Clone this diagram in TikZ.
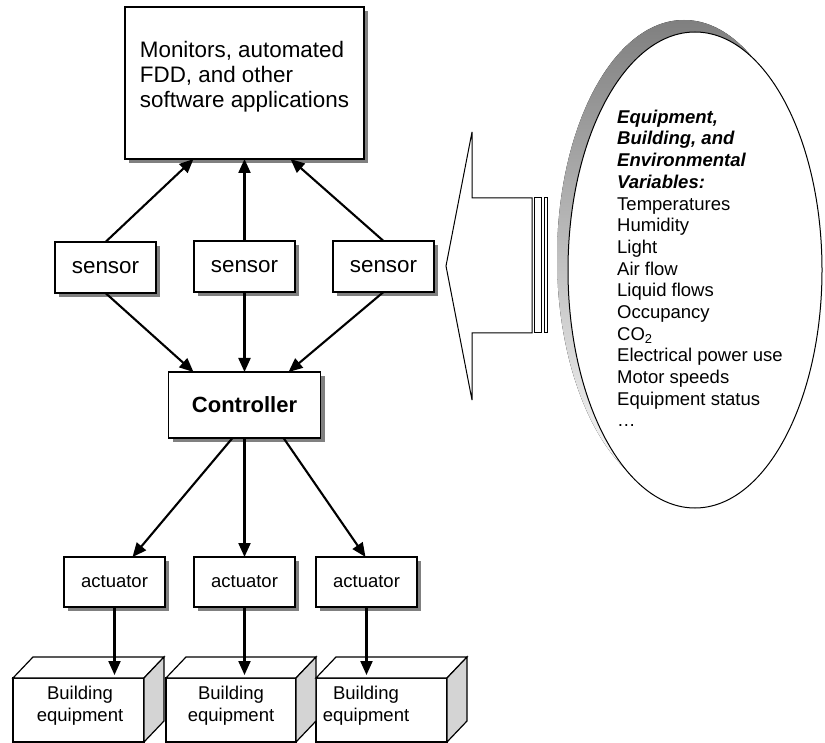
\documentclass[tikz,border=0pt]{standalone}
\usepackage{fontspec}
\setmainfont{Liberation Sans}
\usetikzlibrary{arrows.meta,shadows}
\definecolor{shade}{RGB}{128,128,128}
\definecolor{sidegray}{RGB}{212,212,212}

\tikzset{
  blk/.style={draw,fill=white,line width=1.2pt,outer sep=0pt,inner sep=0pt,
    drop shadow={shadow xshift=4pt,shadow yshift=-4pt,fill=shade,opacity=1}},
  face/.style={draw,fill=white,line width=1.2pt,outer sep=0pt,inner sep=0pt},
  bigfont/.style={font=\fontsize{22.4}{25}\selectfont},
  smallfont/.style={font=\fontsize{18.5}{21.67}\selectfont},
  link/.style={line width=2.1pt,-{Triangle[length=14pt,width=12pt]}},
}

\begin{document}
\begin{tikzpicture}[x=1pt,y=-1pt,line join=miter]
\useasboundingbox (0,0) rectangle (825,743);
% software box
\node[blk,minimum width=239pt,minimum height=152pt] (apps) at (244.5,83) {};
\node[bigfont,align=left] (appstext) at (244.5,77) {Monitors, automated\\FDD, and other\\software applications};
% sensors
\node[blk,bigfont,minimum width=101pt,minimum height=51pt] (s1) at (105.5,267.5) {sensor};
\node[blk,bigfont,minimum width=101pt,minimum height=51pt] (s2) at (244.5,266.5) {sensor};
\node[blk,bigfont,minimum width=101pt,minimum height=51pt] (s3) at (383.5,266.5) {sensor};
% controller
\node[blk,font=\fontsize{22}{25}\bfseries\selectfont,minimum width=152pt,minimum height=66pt] (ctrl) at (244.5,405) {Controller};
% actuators
\node[blk,smallfont,minimum width=101pt,minimum height=50pt] (act1) at (114.5,582) {actuator};
\node[blk,smallfont,minimum width=101pt,minimum height=50pt] (act2) at (244.5,582) {actuator};
\node[blk,smallfont,minimum width=101pt,minimum height=50pt] (act3) at (366.5,582) {actuator};
% building equipment
\node[face,minimum width=131pt,minimum height=64pt] (eq1) at (78.5,710) {};
\node[face,minimum width=130pt,minimum height=64pt] (eq2) at (231,710) {};
\node[face,minimum width=131pt,minimum height=64pt] (eq3) at (381.5,710) {};
\draw[line width=1.2pt,fill=white] (eq1.north west) -- ++(20,-21) -- ++(131,0) -- (eq1.north east) -- cycle;
\draw[line width=1.2pt,fill=sidegray] (eq1.north east) -- ++(20,-21) -- ++(0,64) -- (eq1.south east) -- cycle;
\draw[line width=1.2pt,fill=white] (eq2.north west) -- ++(20,-21) -- ++(130,0) -- (eq2.north east) -- cycle;
\draw[line width=1.2pt,fill=sidegray] (eq2.north east) -- ++(20,-21) -- ++(0,64) -- (eq2.south east) -- cycle;
\draw[line width=1.2pt,fill=white] (eq3.north west) -- ++(20,-21) -- ++(131,0) -- (eq3.north east) -- cycle;
\draw[line width=1.2pt,fill=sidegray] (eq3.north east) -- ++(20,-21) -- ++(0,64) -- (eq3.south east) -- cycle;
\node[smallfont,align=center] (eq1text) at (80,706) {Building\\equipment};
\node[smallfont,align=center] (eq2text) at (231,706) {Building\\equipment};
\node[smallfont,align=center] (eq3text) at (366,706) {Building\\equipment};
% connectors
\draw[link] (s1.north) -- ([xshift=-51pt]apps.south);
\draw[link] (s2.north) -- (apps.south);
\draw[link] (s3.north) -- ([xshift=46pt]apps.south);
\draw[link] (s1.south) -- ([xshift=-51pt]ctrl.north);
\draw[link] (s2.south) -- (ctrl.north);
\draw[link] (s3.south) -- ([xshift=44pt]ctrl.north);
\draw[link] ([xshift=-12pt]ctrl.south) -- ([xshift=18pt]act1.north);
\draw[link] (ctrl.south) -- (act2.north);
\draw[link] ([xshift=39pt]ctrl.south) -- ([xshift=-1pt]act3.north);
\draw[link] (act1.south) -- ([yshift=3pt]act1.south |- eq1.north);
\draw[link] (act2.south) -- ([yshift=3pt]act2.south |- eq2.north);
\draw[link] (act3.south) -- ([yshift=3pt]act3.south |- eq3.north);
% striped arrow
\draw[line width=1pt,fill=white] (446,266) -- (472,132) -- (472,198) -- (532,198) -- (532,333) -- (472,333) -- (472,400) -- cycle;
\draw[line width=1pt] (534,198) rectangle (541,333);
\draw[line width=1pt] (544,198) rectangle (547,333);
% variables ellipse
\fill[shade] (684,258) ellipse [x radius=127, y radius=238];
\draw[line width=1pt,fill=white] (695,270) ellipse [x radius=127, y radius=238];
\node[smallfont,align=left,anchor=base west,inner sep=0pt] (vars) at (617,426.7) {\textbf{\textit{Equipment,}}\\\textbf{\textit{Building, and}}\\\textbf{\textit{Environmental}}\\\textbf{\textit{Variables:}}\\Temperatures\\Humidity\\Light\\Air flow\\Liquid flows\\Occupancy\\CO\textsubscript{2}\\Electrical power use\\Motor speeds\\Equipment status\\…};
\end{tikzpicture}
\end{document}
